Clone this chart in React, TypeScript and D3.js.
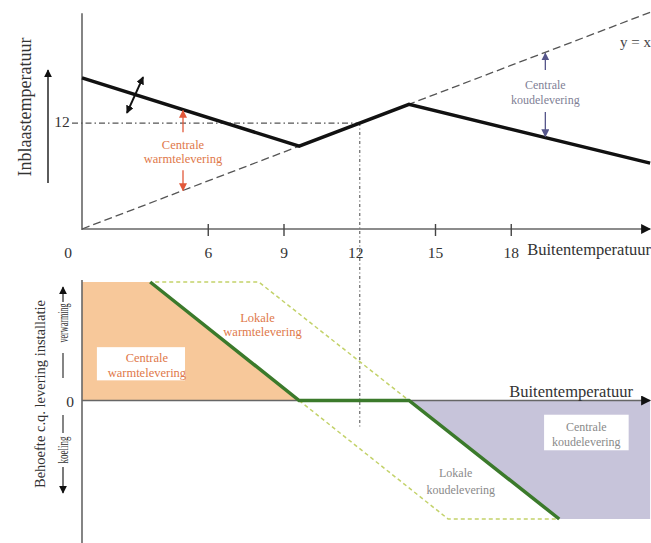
import React from "react";
import * as d3 from "d3";

// ---------- data ----------
const X_TICKS = [6, 9, 12, 15, 18];
const X_TICK_MARKS = [6, 9, 15, 18];
const SETPOINT = 12;
// supply (inblaas) temperature vs outside temperature
const SUPPLY_X = [1, 9.6, 13.95, 23.5];
const SUPPLY_Y = [16.7, 9.6, 13.95, 7.85];
const DIAG_X = [1, 23.5]; // y = x
// demand / delivery chart (bottom)
const DEMAND_X = [3.7, 9.6, 13.95, 19.9];
const DEMAND_Y = [1, 0, 0, -1];
const LOCAL_HEAT_X = [3.9, 8.0, 13.95];
const LOCAL_HEAT_Y = [1, 1, 0];
const LOCAL_COOL_X = [9.6, 15.5, 19.9];
const LOCAL_COOL_Y = [0, -1, -1];
const HEAT_AREA_X = [1, 3.7, 9.6, 1];
const HEAT_AREA_Y = [1, 1, 0, 0];
const COOL_AREA_X = [13.95, 23.5, 23.5, 19.9];
const COOL_AREA_Y = [0, 0, -1, -1];

const SERIF = "'Liberation Serif', 'Times New Roman', serif";
const AXIS = "#666";
const ORANGE_TXT = "#e0784a";
const ORANGE_ARR = "#e2583a";
const PURPLE_TXT = "#7f7f96";
const PURPLE_ARR = "#55558a";
const GRAY_TXT = "#8a8a8a";

const zip = (xs: number[], ys: number[]) => xs.map((x, i) => ({ x, y: ys[i] }));

export default function App() {
  const x = d3.scaleLinear().domain([1, 24]).range([82, 82 + 23 * 25.25]);
  const yT = d3.scaleLinear().domain([1, 24]).range([229, 229 - 23 * 9.63]);
  const yB = d3.scaleLinear().domain([-1, 1]).range([519, 282]);

  const supply = zip(SUPPLY_X, SUPPLY_Y);
  const supplyAt = (v: number) => {
    for (let i = 0; i < supply.length - 1; i++) {
      const a = supply[i], b = supply[i + 1];
      if (v >= a.x && v <= b.x) return a.y + ((v - a.x) / (b.x - a.x)) * (b.y - a.y);
    }
    return supply[supply.length - 1].y;
  };

  const lineT = d3.line<{ x: number; y: number }>().x(d => x(d.x)).y(d => yT(d.y));
  const lineB = d3.line<{ x: number; y: number }>().x(d => x(d.x)).y(d => yB(d.y));

  const xEnd = 23.5;
  const rot = (px: number, py: number) => `rotate(-90 ${px} ${py})`;

  return (
    <svg width={651} height={543} style={{ position: "absolute", left: 0, top: 0, background: "#fff" }}
      fontFamily={SERIF}>
      <defs>
        {[["arrBlack", "#111"], ["arrOrange", ORANGE_ARR], ["arrPurple", PURPLE_ARR]].map(([id, c]) => (
          <marker key={id} id={id} viewBox="0 0 10 10" refX={9} refY={5} markerWidth={8} markerHeight={8}
            markerUnits="userSpaceOnUse" orient="auto-start-reverse">
            <path d="M0,0 L10,5 L0,10 z" fill={c} />
          </marker>
        ))}
        <marker id="arrBig" viewBox="0 0 10 10" refX={9} refY={5} markerWidth={11} markerHeight={10}
          markerUnits="userSpaceOnUse" orient="auto-start-reverse">
          <path d="M0,0 L10,5 L0,10 z" fill="#111" />
        </marker>
      </defs>

      {/* ================= TOP CHART ================= */}
      <line x1={x(1)} x2={x(1)} y1={yT(23.4)} y2={yT(1) + 1} stroke={AXIS} strokeWidth={1.6} />
      <line x1={x(1)} x2={x(xEnd)} y1={yT(1)} y2={yT(1)} stroke={AXIS} strokeWidth={1.6} markerEnd="url(#arrBig)" />
      {X_TICK_MARKS.map(t => (
        <line key={t} x1={x(t)} x2={x(t)} y1={yT(1) - 5} y2={yT(1) + 7} stroke="#444" strokeWidth={1.4} />
      ))}
      {X_TICKS.map(t => (
        <text key={t} x={t === 12 ? x(t) - 4 : x(t)} y={258} fontSize={15.5} fill="#333" textAnchor="middle">{t}</text>
      ))}
      <text x={68} y={258} fontSize={15.5} fill="#333" textAnchor="middle">0</text>
      <text x={651} y={255} fontSize={16.5} fill="#333" textAnchor="end">Buitentemperatuur</text>

      {/* setpoint dash-dot lines */}
      <text x={62} y={127} fontSize={15.5} fill="#333" textAnchor="middle">{SETPOINT}</text>
      <line x1={72} x2={x(SETPOINT)} y1={yT(SETPOINT)} y2={yT(SETPOINT)} stroke="#555" strokeWidth={1.2}
        strokeDasharray="6,3,1.5,3" />
      <line x1={x(SETPOINT)} x2={x(SETPOINT)} y1={yT(SETPOINT)} y2={yB(-0.22)} stroke="#666" strokeWidth={1.2}
        strokeDasharray="3,2.5,1,2.5" />

      {/* y = x dashed */}
      <path d={lineT(DIAG_X.map(v => ({ x: v, y: v })))!} fill="none" stroke="#555" strokeWidth={1.3}
        strokeDasharray="8,4" />
      <text x={651} y={47} fontSize={15} fill="#444" textAnchor="end">y = x</text>

      {/* supply temperature line */}
      <path d={lineT(supply)!} fill="none" stroke="#111" strokeWidth={3.4} strokeLinejoin="miter" />

      {/* double adjustment arrow */}
      <line x1={x(2.78)} y1={yT(13.05)} x2={x(3.42)} y2={yT(16.78)} stroke="#111" strokeWidth={2}
        markerStart="url(#arrBlack)" markerEnd="url(#arrBlack)" />

      {/* y-axis label */}
      <text transform={rot(25, 107)} x={25} y={107} dy={6} fontSize={18} fill="#333" textAnchor="middle">
        Inblaastemperatuur
      </text>
      <line x1={48} x2={48} y1={183} y2={70} stroke="#333" strokeWidth={1.6} markerEnd="url(#arrBlack)" />

      {/* central heat delivery annotation */}
      <line x1={x(5)} x2={x(5)} y1={yT(11.05)} y2={yT(supplyAt(5)) + 1} stroke={ORANGE_ARR} strokeWidth={1.3}
        markerEnd="url(#arrOrange)" />
      <text x={x(5)} y={149} fontSize={12.5} fill={ORANGE_TXT} textAnchor="middle">Centrale</text>
      <text x={x(5)} y={163} fontSize={12.5} fill={ORANGE_TXT} textAnchor="middle">warmtelevering</text>
      <line x1={x(5)} x2={x(5)} y1={yT(7.1)} y2={yT(5)} stroke={ORANGE_ARR} strokeWidth={1.3}
        markerEnd="url(#arrOrange)" />

      {/* central cooling annotation */}
      <line x1={x(19.35)} x2={x(19.35)} y1={yT(17.5)} y2={yT(19.35) + 1} stroke={PURPLE_ARR} strokeWidth={1.3}
        markerEnd="url(#arrPurple)" />
      <text x={x(19.35)} y={89} fontSize={12} fill={PURPLE_TXT} textAnchor="middle">Centrale</text>
      <text x={x(19.35)} y={104} fontSize={12} fill={PURPLE_TXT} textAnchor="middle">koudelevering</text>
      <line x1={x(19.35)} x2={x(19.35)} y1={yT(13.15)} y2={yT(supplyAt(19.35)) - 1} stroke={PURPLE_ARR}
        strokeWidth={1.3} markerEnd="url(#arrPurple)" />

      {/* ================= BOTTOM CHART ================= */}
      <path d={lineB(zip(HEAT_AREA_X, HEAT_AREA_Y))! + "Z"} fill="#f7c89a" />
      <path d={lineB(zip(COOL_AREA_X, COOL_AREA_Y))! + "Z"} fill="#c7c4da" />

      {/* white label boxes */}
      <rect x={x(1.59)} y={yB(0.45)} width={x(5.08) - x(1.59)} height={yB(0.17) - yB(0.45)} fill="#fff" />
      <rect x={x(19.3)} y={yB(-0.12)} width={x(22.65) - x(19.3)} height={yB(-0.42) - yB(-0.12)} fill="#fff" />

      {/* axes */}
      <line x1={x(1)} x2={x(1)} y1={280} y2={543} stroke={AXIS} strokeWidth={1.6} />
      <line x1={x(1)} x2={x(xEnd)} y1={yB(0)} y2={yB(0)} stroke={AXIS} strokeWidth={1.6} markerEnd="url(#arrBig)" />
      <text x={70} y={407} fontSize={15.5} fill="#333" textAnchor="middle">0</text>
      <text x={633} y={397} fontSize={16.5} fill="#333" textAnchor="end">Buitentemperatuur</text>

      {/* local delivery dashed */}
      <path d={lineB(zip(LOCAL_HEAT_X, LOCAL_HEAT_Y))!} fill="none" stroke="#c3d26a" strokeWidth={1.5}
        strokeDasharray="4,3" />
      <path d={lineB(zip(LOCAL_COOL_X, LOCAL_COOL_Y))!} fill="none" stroke="#c3d26a" strokeWidth={1.5}
        strokeDasharray="4,3" />

      {/* demand line */}
      <path d={lineB(zip(DEMAND_X, DEMAND_Y))!} fill="none" stroke="#3b7a2b" strokeWidth={3.5} />

      {/* labels */}
      <text x={x(3.57)} y={362} fontSize={12.5} fill={ORANGE_TXT} textAnchor="middle">Centrale</text>
      <text x={x(3.57)} y={377} fontSize={12.5} fill={ORANGE_TXT} textAnchor="middle">warmtelevering</text>
      <text x={x(7.95)} y={322} fontSize={12.5} fill={ORANGE_TXT} textAnchor="middle">Lokale</text>
      <text x={x(8.15)} y={336} fontSize={12.5} fill={ORANGE_TXT} textAnchor="middle">warmtelevering</text>
      <text x={x(20.97)} y={431} fontSize={12} fill={GRAY_TXT} textAnchor="middle">Centrale</text>
      <text x={x(20.97)} y={446} fontSize={12} fill={GRAY_TXT} textAnchor="middle">koudelevering</text>
      <text x={x(15.8)} y={477} fontSize={12} fill={GRAY_TXT} textAnchor="middle">Lokale</text>
      <text x={x(16.0)} y={494} fontSize={12} fill={GRAY_TXT} textAnchor="middle">koudelevering</text>

      {/* y-axis label */}
      <text transform={rot(40, 394)} x={40} y={394} dy={5} fontSize={14.5} fill="#333" textAnchor="middle">
        Behoefte c.q. levering installatie
      </text>
      <text transform={rot(63, 323)} x={63} y={323} dy={4.5} fontSize={14} fill="#333" textAnchor="middle"
        textLength={39} lengthAdjust="spacingAndGlyphs">
        verwarming
      </text>
      <line x1={63} x2={63} y1={302} y2={287} stroke="#333" strokeWidth={1.3} markerEnd="url(#arrBlack)" />
      <line x1={63} x2={63} y1={353} y2={378} stroke="#333" strokeWidth={1.2} />
      <line x1={63} x2={63} y1={415} y2={433} stroke="#333" strokeWidth={1.2} />
      <text transform={rot(63, 450)} x={63} y={450} dy={4.5} fontSize={14} fill="#333" textAnchor="middle"
        textLength={27} lengthAdjust="spacingAndGlyphs">
        koeling
      </text>
      <line x1={63} x2={63} y1={467} y2={493} stroke="#333" strokeWidth={1.3} markerEnd="url(#arrBlack)" />
    </svg>
  );
}
